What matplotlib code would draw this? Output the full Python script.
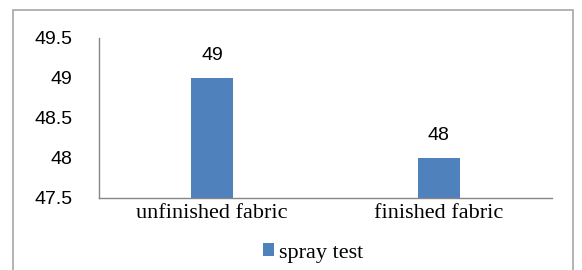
import matplotlib.pyplot as plt
from matplotlib.patches import Rectangle

categories = ['unfinished fabric', 'finished fabric']
values = [49, 48]
series_name = 'spray test'


def main():
    fig = plt.figure(figsize=(5.82, 2.70), dpi=100)
    ax = fig.add_axes([99 / 582, 1 - 198 / 270, 453 / 582, 160 / 270])

    # 外框
    fig.patches.append(Rectangle((13 / 582, -0.1), 560 / 582, 1.1 - 10 / 270,
                                 transform=fig.transFigure, fill=False,
                                 edgecolor='#a6a6a6', linewidth=1.2))

    x = range(len(categories))
    bars = ax.bar(x, values, width=0.185, color='#4f81bd', label=series_name)
    for b, v in zip(bars, values):
        ax.text(b.get_x() + b.get_width() / 2, v + 0.17, str(v),
                ha='center', va='bottom', fontsize=14, family='Liberation Sans')

    ax.set_xlim(-0.5, 1.5)
    ax.set_ylim(47.5, 49.5)
    ax.set_yticks([47.5, 48, 48.5, 49, 49.5])
    ax.set_yticklabels(['47.5', '48', '48.5', '49', '49.5'], family='Liberation Sans', fontsize=14)
    ax.set_xticks(list(x))
    ax.set_xticklabels(categories, family='Liberation Serif', fontsize=16)
    ax.tick_params(length=0)
    ax.tick_params(axis='y', pad=19)
    ax.tick_params(axis='x', pad=4)
    for s in ['top', 'right']:
        ax.spines[s].set_visible(False)
    for s in ['left', 'bottom']:
        ax.spines[s].set_color('#868686')
        ax.spines[s].set_linewidth(1.0)

    ax.legend(loc='center', bbox_to_anchor=(313 / 582, 1 - 253 / 270),
              bbox_transform=fig.transFigure, frameon=False,
              prop={'family': 'Liberation Serif', 'size': 16},
              handlelength=0.5, handleheight=0.5, handletextpad=0.25)

    fig.savefig('out.png', dpi=100)


if __name__ == '__main__':
    main()
